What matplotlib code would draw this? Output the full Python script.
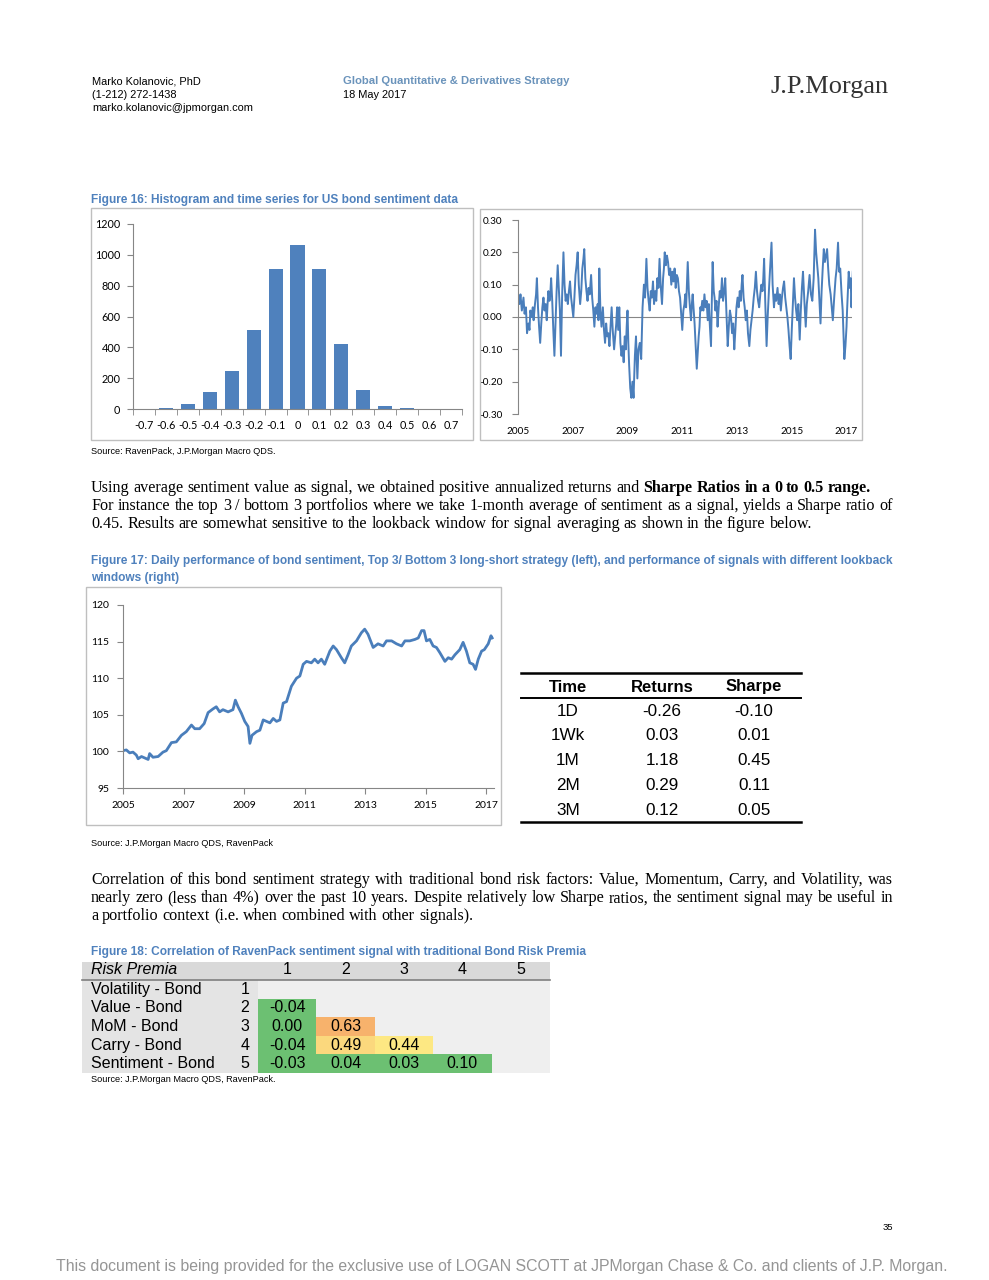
"""
Page 35 of the JPM bond sentiment note, redrawn with matplotlib.
"""

import matplotlib
matplotlib.use('Agg')
import matplotlib.pyplot as plt
from matplotlib import font_manager
from matplotlib.patches import Rectangle
from matplotlib.lines import Line2D

W, H = 989, 1280

# --- Figure 16 (left): histogram of sentiment --------------------------------
hist_bins = ['-0.7', '-0.6', '-0.5', '-0.4', '-0.3', '-0.2', '-0.1', '0',
             '0.1', '0.2', '0.3', '0.4', '0.5', '0.6', '0.7']
hist_counts = [0, 9, 30, 112, 249, 515, 908, 1064, 906, 419, 123, 22, 6, 0, 0]

# --- Figure 16 (right): sentiment time series --------------------------------
sent_years = [
    2005.00, 2005.05, 2005.09, 2005.14, 2005.20, 2005.24, 2005.29, 2005.33,
    2005.38, 2005.42, 2005.45, 2005.50, 2005.54, 2005.57, 2005.62, 2005.66,
    2005.69, 2005.73, 2005.77, 2005.81, 2005.85, 2005.89, 2005.93, 2005.97,
    2006.01, 2006.05, 2006.08, 2006.11, 2006.15, 2006.18, 2006.21, 2006.25,
    2006.29, 2006.33, 2006.37, 2006.41, 2006.45, 2006.49, 2006.53, 2006.57,
    2006.61, 2006.66, 2006.70, 2006.74, 2006.78, 2006.82, 2006.86, 2006.90,
    2006.94, 2006.98, 2007.02, 2007.06, 2007.10, 2007.14, 2007.18, 2007.22,
    2007.27, 2007.31, 2007.35, 2007.39, 2007.42, 2007.46, 2007.50, 2007.54,
    2007.58, 2007.62, 2007.67, 2007.71, 2007.75, 2007.79, 2007.83, 2007.87,
    2007.91, 2007.94, 2007.97, 2008.01, 2008.05, 2008.10, 2008.14, 2008.18,
    2008.22, 2008.26, 2008.30, 2008.34, 2008.38, 2008.42, 2008.46, 2008.51,
    2008.55, 2008.59, 2008.62, 2008.66, 2008.70, 2008.74, 2008.78, 2008.82,
    2008.86, 2008.90, 2008.94, 2008.97, 2009.00, 2009.03, 2009.06, 2009.10,
    2009.14, 2009.18, 2009.22, 2009.27, 2009.31, 2009.36, 2009.40, 2009.45,
    2009.50, 2009.55, 2009.60, 2009.64, 2009.69, 2009.73, 2009.77, 2009.81,
    2009.85, 2009.89, 2009.93, 2009.97, 2010.01, 2010.05, 2010.09, 2010.13,
    2010.17, 2010.21, 2010.26, 2010.30, 2010.33, 2010.36, 2010.40, 2010.44,
    2010.48, 2010.52, 2010.56, 2010.60, 2010.64, 2010.68, 2010.72, 2010.76,
    2010.80, 2010.84, 2010.88, 2010.92, 2010.96, 2011.00, 2011.04, 2011.08,
    2011.11, 2011.14, 2011.17, 2011.20, 2011.24, 2011.28, 2011.32, 2011.35,
    2011.38, 2011.42, 2011.45, 2011.49, 2011.53, 2011.57, 2011.60, 2011.63,
    2011.66, 2011.69, 2011.73, 2011.77, 2011.81, 2011.85, 2011.89, 2011.93,
    2011.97, 2012.01, 2012.05, 2012.08, 2012.11, 2012.15, 2012.18, 2012.21,
    2012.25, 2012.29, 2012.33, 2012.37, 2012.41, 2012.45, 2012.49, 2012.53,
    2012.57, 2012.61, 2012.66, 2012.70, 2012.74, 2012.78, 2012.82, 2012.86,
    2012.90, 2012.94, 2012.98, 2013.02, 2013.06, 2013.10, 2013.14, 2013.17,
    2013.20, 2013.24, 2013.28, 2013.32, 2013.36, 2013.40, 2013.45, 2013.49,
    2013.53, 2013.57, 2013.61, 2013.65, 2013.69, 2013.73, 2013.77, 2013.81,
    2013.85, 2013.89, 2013.93, 2013.96, 2013.99, 2014.03, 2014.08, 2014.12,
    2014.17, 2014.21, 2014.26, 2014.30, 2014.35, 2014.39, 2014.43, 2014.48,
    2014.52, 2014.56, 2014.60, 2014.64, 2014.68, 2014.72, 2014.76, 2014.80,
    2014.84, 2014.88, 2014.92, 2014.96, 2015.00, 2015.04, 2015.08, 2015.12,
    2015.16, 2015.20, 2015.24, 2015.29, 2015.33, 2015.37, 2015.41, 2015.46,
    2015.51, 2015.55, 2015.60, 2015.65, 2015.70, 2015.75, 2015.80, 2015.85,
    2015.89, 2015.93, 2015.97, 2016.01, 2016.05, 2016.09, 2016.13, 2016.17,
    2016.21, 2016.25, 2016.29, 2016.33, 2016.37, 2016.42, 2016.46, 2016.50,
    2016.55, 2016.60, 2016.64, 2016.69, 2016.73, 2016.77, 2016.82, 2016.86,
    2016.89, 2016.92, 2016.96, 2017.00, 2017.02, 2017.05, 2017.08, 2017.12,
    2017.15, 2017.18, 2017.21, 2017.23]
sent_values = [
    0.07, 0.04, 0.07, 0.02, 0.06, 0.01, 0.03, -0.05,
    -0.02, -0.04, 0.02, 0.00, 0.03, -0.01, 0.04, 0.07,
    0.12, 0.03, -0.03, -0.08, -0.02, 0.03, 0.06, 0.02,
    0.04, -0.01, 0.04, 0.08, 0.05, 0.07, 0.12, 0.05,
    -0.04, -0.12, -0.02, 0.08, 0.16, 0.09, 0.02, -0.12,
    0.06, 0.20, 0.10, 0.05, 0.07, 0.04, 0.08, 0.11,
    0.06, 0.03, 0.00, 0.06, 0.13, 0.16, 0.20, 0.10,
    0.04, 0.08, 0.15, 0.18, 0.21, 0.12, 0.08, 0.05,
    0.09, 0.07, 0.13, 0.06, 0.02, -0.03, 0.03, 0.01,
    0.04, -0.01, 0.15, 0.02, -0.03, 0.03, -0.04, -0.08,
    -0.02, -0.06, -0.05, -0.09, -0.03, 0.03, -0.04, -0.10,
    -0.06, -0.02, 0.03, -0.04, 0.03, -0.08, -0.12, -0.09,
    -0.14, -0.06, -0.10, -0.03, 0.02, -0.08, -0.15, -0.22,
    -0.25, -0.20, -0.25, -0.12, -0.06, -0.19, -0.10, -0.08,
    -0.13, 0.03, 0.10, 0.06, 0.18, 0.09, 0.05, 0.02,
    0.08, 0.06, 0.11, 0.04, 0.08, 0.05, 0.12, 0.09,
    0.18, 0.10, 0.04, 0.12, 0.15, 0.20, 0.16, 0.19,
    0.17, 0.13, 0.15, 0.10, 0.14, 0.11, 0.15, 0.09,
    0.13, 0.12, 0.08, 0.06, 0.01, -0.04, 0.02, 0.04,
    0.07, 0.03, 0.10, 0.17, 0.08, 0.03, -0.01, 0.04,
    0.07, 0.02, -0.02, -0.09, -0.16, -0.10, -0.06, -0.03,
    0.03, 0.02, 0.05, 0.02, 0.07, 0.03, 0.05, -0.01,
    0.04, -0.03, -0.09, 0.05, 0.17, 0.08, 0.06, 0.02,
    0.05, -0.03, 0.03, 0.08, 0.06, 0.12, 0.05, 0.08,
    0.12, 0.02, -0.09, -0.03, 0.02, 0.00, -0.05, -0.02,
    -0.10, -0.04, 0.03, 0.06, 0.03, 0.08, 0.05, 0.10,
    0.13, 0.06, 0.03, -0.01, 0.02, -0.05, -0.09, -0.04,
    -0.01, 0.02, 0.06, 0.09, 0.14, 0.08, 0.05, 0.03,
    0.07, 0.10, 0.08, 0.12, 0.18, 0.05, -0.09, 0.00,
    0.09, 0.15, 0.23, 0.10, 0.03, 0.07, 0.05, 0.09,
    0.04, 0.07, 0.02, 0.06, 0.09, 0.11, 0.06, 0.03,
    0.00, -0.04, -0.09, -0.13, -0.04, 0.04, 0.12, 0.06,
    0.02, -0.01, 0.04, -0.07, 0.02, 0.09, 0.14, 0.05,
    -0.03, 0.04, 0.08, 0.13, 0.07, 0.05, 0.12, 0.27,
    0.20, 0.16, 0.12, 0.05, -0.02, 0.08, 0.15, 0.21,
    0.17, 0.19, 0.21, 0.15, 0.10, 0.07, 0.03, -0.01,
    0.06, 0.12, 0.15, 0.23, 0.14, 0.15, 0.07, 0.02,
    -0.06, -0.13, -0.09, -0.03, 0.02, 0.08, 0.14, 0.09,
    0.12, 0.03, 0.10, 0.14]

# --- Figure 17 (left): cumulative performance ---------------------------------
perf_years = [2005.00, 2005.11, 2005.22, 2005.33, 2005.44, 2005.50, 2005.61,
              2005.72, 2005.83, 2005.88, 2005.99, 2006.16, 2006.32, 2006.43,
              2006.60, 2006.76, 2006.93, 2007.09, 2007.26, 2007.37, 2007.53,
              2007.68, 2007.81, 2007.97, 2008.08, 2008.19, 2008.30, 2008.47,
              2008.63, 2008.71, 2008.80, 2008.91, 2009.02, 2009.13, 2009.19,
              2009.26, 2009.41, 2009.52, 2009.63, 2009.74, 2009.85, 2009.96,
              2010.07, 2010.18, 2010.29, 2010.40, 2010.56, 2010.73, 2010.84,
              2010.95, 2011.06, 2011.22, 2011.33, 2011.44, 2011.55, 2011.66,
              2011.83, 2011.94, 2012.05, 2012.21, 2012.32, 2012.43, 2012.54,
              2012.71, 2012.87, 2012.98, 2013.09, 2013.26, 2013.42, 2013.59,
              2013.70, 2013.87, 2014.03, 2014.20, 2014.31, 2014.47, 2014.64,
              2014.75, 2014.86, 2014.94, 2015.02, 2015.13, 2015.24, 2015.35,
              2015.46, 2015.63, 2015.74, 2015.85, 2015.96, 2016.12, 2016.23,
              2016.34, 2016.45, 2016.56, 2016.64, 2016.73, 2016.84, 2016.93,
              2017.06, 2017.15, 2017.19]
perf_values = [100.1, 100.2, 99.8, 99.9, 99.5, 99.0, 99.3,
               99.1, 98.9, 99.7, 99.2, 99.3, 99.9, 100.1,
               101.2, 101.3, 102.2, 102.7, 103.6, 103.1, 103.1,
               103.8, 105.3, 105.8, 106.1, 105.4, 105.7, 105.4,
               105.7, 107.0, 106.1, 105.2, 104.1, 103.4, 101.1,
               102.2, 102.7, 102.9, 104.3, 104.1, 103.9, 104.5,
               104.1, 104.3, 106.6, 106.8, 108.9, 110.0, 110.3,
               111.9, 112.3, 112.1, 112.6, 112.1, 112.6, 111.9,
               113.7, 114.4, 113.9, 112.8, 112.1, 113.2, 114.4,
               115.1, 116.2, 116.7, 116.0, 114.2, 114.7, 114.4,
               115.1, 115.1, 114.7, 114.4, 115.1, 115.1, 115.3,
               115.5, 116.5, 116.5, 115.1, 115.3, 114.4, 114.2,
               113.5, 112.3, 112.8, 112.6, 113.2, 113.9, 114.9,
               113.7, 112.1, 111.9, 111.2, 112.6, 113.7, 113.9,
               114.7, 115.8, 115.5]

# --- Figure 17 (right): lookback table ---------------------------------------
look_headers = ['Time', 'Returns', 'Sharpe']
look_time = ['1D', '1Wk', '1M', '2M', '3M']
look_returns = ['-0.26', '0.03', '1.18', '0.29', '0.12']
look_sharpe = ['-0.10', '0.01', '0.45', '0.11', '0.05']

# --- Figure 18: correlation matrix -------------------------------------------
corr_names = ['Volatility - Bond', 'Value - Bond', 'MoM - Bond',
              'Carry - Bond', 'Sentiment - Bond']
corr_matrix = [[None, None, None, None, None],
               [-0.04, None, None, None, None],
               [0.00, 0.63, None, None, None],
               [-0.04, 0.49, 0.44, None, None],
               [-0.03, 0.04, 0.03, 0.10, None]]

# body paragraphs, line by line as on the page (text, weight)
para1 = [[("Using average sentiment value as signal, we obtained positive "
           "annualized returns and", 'normal'),
          ("Sharpe Ratios in a 0 to 0.5 range.", 'bold')],
         [("For instance the top 3 / bottom 3 portfolios where we take 1-month "
           "average of sentiment as a signal, yields a Sharpe ratio of",
           'normal')],
         [("0.45. Results are somewhat sensitive to the lookback window for "
           "signal averaging as shown in the figure below.", 'normal')]]
para1_justify = [False, True, False]
para2 = [[("Correlation of this bond sentiment strategy with traditional bond "
           "risk factors: Value, Momentum, Carry, and Volatility, was",
           'normal')],
         [("nearly zero (less than 4%) over the past 10 years. Despite "
           "relatively low Sharpe ratios, the sentiment signal may be useful in",
           'normal')],
         [("a portfolio context (i.e. when combined with other signals).",
           'normal')]]
para2_justify = [True, True, False]

names = {f.name for f in font_manager.fontManager.ttflist}
SANS = 'Liberation Sans'
NARROW = 'Liberation Sans Narrow' if 'Liberation Sans Narrow' in names else SANS
SERIF = 'Liberation Serif'
CHART = 'Lato' if 'Lato' in names else 'DejaVu Sans'
TITLE_BLUE = '#4f81bd'
LINE_BLUE = '#4a7ebb'
AXIS_GREY = '#868686'

fig = plt.figure(figsize=(W / 100, H / 100), dpi=100)
fig.patch.set_facecolor('white')
renderer = fig.canvas.get_renderer()


def fx(x):
    return x / W


def fy(y):
    return 1 - y / H


def put(x, y, s, **kw):
    kw.setdefault('va', 'center')
    kw.setdefault('family', SANS)
    return fig.text(fx(x), fy(y), s, **kw)


def add_ax(left, top, right, bottom):
    return fig.add_axes([fx(left), fy(bottom), (right - left) / W,
                         (bottom - top) / H])


def frame(left, top, right, bottom, color='#bfbfbf', lw=1.0, fill='none'):
    fig.patches.append(Rectangle((fx(left), fy(bottom)), (right - left) / W,
                                 (bottom - top) / H, transform=fig.transFigure,
                                 facecolor=fill, edgecolor=color, linewidth=lw))


def hline(x0, x1, y, color='black', lw=1.0):
    fig.lines.append(Line2D([fx(x0), fx(x1)], [fy(y), fy(y)],
                            transform=fig.transFigure, color=color,
                            linewidth=lw))


def text_width(s, **kw):
    t = fig.text(0, 0, s, **kw)
    w = t.get_window_extent(renderer).width
    t.remove()
    return w


def draw_line(segments, x0, x1, y, size, justify):
    """Draws one line of body text, word by word, justified if asked."""
    words = []
    for seg, weight in segments:
        for w in seg.split():
            words.append((w, weight))
    texts = [fig.text(0, 0, w, fontsize=size, family=SERIF, weight=wt,
                      va='baseline') for w, wt in words]
    widths = [t.get_window_extent(renderer).width for t in texts]
    space = (text_width('a a', fontsize=size, family=SERIF) -
             text_width('aa', fontsize=size, family=SERIF))
    if justify and len(words) > 1:
        gap = (x1 - x0 - sum(widths)) / (len(words) - 1)
    else:
        gap = space
    x = x0
    for t, w in zip(texts, widths):
        t.set_position((fx(x), fy(y)))
        x += w + gap


def style_ticks(ax):
    for lab in ax.get_xticklabels() + ax.get_yticklabels():
        lab.set_family(CHART)
    ax.set_facecolor('none')


# header
put(92, 81, "Marko Kolanovic, PhD", fontsize=7.9)
put(92, 95, "(1-212) 272-1438", fontsize=7.9)
put(92, 108, "marko.kolanovic@jpmorgan.com", fontsize=7.9)
put(343, 81, "Global Quantitative & Derivatives Strategy", fontsize=8.1,
    weight='bold', color='#6a93bb')
put(343, 95, "18 May 2017", fontsize=7.9)
put(889, 87, "J.P.Morgan", fontsize=19, family=SERIF, ha='right',
    color='#333333')

# figure 16 title
put(91, 200, "Figure 16: Histogram and time series for US bond sentiment data",
    fontsize=8.6, weight='bold', color=TITLE_BLUE, family=NARROW)

# histogram
frame(91, 208, 473, 440)
ax = add_ax(133, 224, 462, 409)
pos = list(range(len(hist_bins)))
ax.bar(pos, hist_counts, width=0.64, color='#4f81bd')
ax.set_xlim(-0.5, len(hist_bins) - 0.5)
ax.set_ylim(0, 1200)
ax.set_yticks(range(0, 1201, 200))
ax.set_xticks(pos)
ax.set_xticklabels(hist_bins)
ax.set_xticks([p - 0.5 for p in pos] + [len(pos) - 0.5], minor=True)
ax.tick_params(axis='x', which='major', length=0, pad=8, labelsize=7.8)
ax.tick_params(axis='x', which='minor', length=4, color=AXIS_GREY,
               direction='out')
ax.tick_params(axis='y', length=4, color=AXIS_GREY, pad=5, labelsize=7.8)
style_ticks(ax)
for side in ['top', 'right']:
    ax.spines[side].set_visible(False)
ax.spines['left'].set_color(AXIS_GREY)
ax.spines['bottom'].set_color(AXIS_GREY)

# sentiment time series
frame(480, 209, 862, 440)
ax = add_ax(518, 220, 852, 414)
ax.plot(sent_years, sent_values, color=LINE_BLUE, linewidth=1.4)
ax.axhline(0, color=AXIS_GREY, linewidth=0.8, zorder=0)
ax.set_xlim(2005, 2017.2)
ax.set_ylim(-0.30, 0.30)
yt = [-0.3, -0.2, -0.1, 0.0, 0.1, 0.2, 0.3]
ax.set_yticks(yt)
ax.set_yticklabels(['%.2f' % v for v in yt])
ax.set_xticks(range(2005, 2018, 2))
ax.tick_params(axis='x', length=0, pad=9, labelsize=7.2)
ax.tick_params(axis='y', length=4, color=AXIS_GREY, pad=7, labelsize=7.2)
style_ticks(ax)
for side in ['top', 'right', 'bottom']:
    ax.spines[side].set_visible(False)
ax.spines['left'].set_color(AXIS_GREY)

put(91, 451, "Source: RavenPack, J.P.Morgan Macro QDS.", fontsize=6.6)

# paragraph 1
size = 11.65
for i, (segs, just) in enumerate(zip(para1, para1_justify)):
    draw_line(segs, 91, 893, 492 + 18.2 * i, size, just)

# figure 17 title
put(91, 561, "Figure 17: Daily performance of bond sentiment, Top 3/ Bottom 3 "
    "long-short strategy (left), and performance of signals with different "
    "lookback", fontsize=8.6, weight='bold', color=TITLE_BLUE, family=NARROW)
put(91, 578, "windows (right)", fontsize=8.6, weight='bold', color=TITLE_BLUE,
    family=NARROW)

# performance line
frame(86, 587, 501, 825)
ax = add_ax(123, 605, 494, 788)
ax.plot(perf_years, perf_values, color=LINE_BLUE, linewidth=2.0)
ax.set_xlim(2005, 2017.25)
ax.set_ylim(95, 120)
ax.set_yticks(range(95, 121, 5))
ax.set_xticks(range(2005, 2018, 2))
ax.tick_params(axis='both', length=4, color=AXIS_GREY, labelsize=7.5)
ax.tick_params(axis='x', pad=5)
ax.tick_params(axis='y', pad=6)
style_ticks(ax)
for side in ['top', 'right']:
    ax.spines[side].set_visible(False)
ax.spines['left'].set_color(AXIS_GREY)
ax.spines['bottom'].set_color(AXIS_GREY)

put(91, 843, "Source: J.P.Morgan Macro QDS, RavenPack", fontsize=6.6)

# lookback table
col_x = [568, 662, 754]
hline(521, 801, 673, lw=1.8)
hline(521, 801, 698, lw=1.4)
hline(521, 801, 822, lw=1.8)
for x, h in zip(col_x, look_headers):
    put(x, 687, h, fontsize=12, weight='bold', ha='center')
for i in range(len(look_time)):
    y = 711 + 24.8 * i
    for x, v in zip(col_x, [look_time[i], look_returns[i], look_sharpe[i]]):
        put(x, y, v, fontsize=12.3, ha='center')

# paragraph 2
for i, (segs, just) in enumerate(zip(para2, para2_justify)):
    draw_line(segs, 91, 893, 884 + 18.2 * i, size, just)

# figure 18 title
put(91, 952, "Figure 18: Correlation of RavenPack sentiment signal with "
    "traditional Bond Risk Premia", fontsize=8.6, weight='bold',
    color=TITLE_BLUE, family=NARROW)


def corr_colour(v):
    if v >= 0.55:
        return '#f7b26c'
    if v >= 0.47:
        return '#fbd87d'
    if v >= 0.4:
        return '#fde883'
    return '#6cc072'


# correlation table
left, lab_right, right = 82, 258, 550
top, head_bot = 962, 980
row_h = 18.6
col_w = (right - lab_right) / 5
frame(left, top, right, head_bot, color='none', fill='#d9d9d9')
frame(left, head_bot, lab_right, head_bot + 5 * row_h, color='none',
      fill='#e4e4e4')
frame(lab_right, head_bot, right, head_bot + 5 * row_h, color='none',
      fill='#efefef')
hline(left, right, head_bot, color='#7f7f7f', lw=1.2)
put(91, 970, "Risk Premia", fontsize=11.5, style='italic')
for j in range(5):
    put(lab_right + col_w * (j + 0.5), 970, str(j + 1), fontsize=11.5,
        ha='center')
for i, name in enumerate(corr_names):
    yc = head_bot + row_h * (i + 0.5)
    put(91, yc, name, fontsize=11.5)
    put(245, yc, str(i + 1), fontsize=11.5, ha='center')
    for j, v in enumerate(corr_matrix[i]):
        if v is None:
            continue
        x0 = lab_right + col_w * j
        frame(x0, head_bot + row_h * i, x0 + col_w, head_bot + row_h * (i + 1),
              color='none', fill=corr_colour(v))
        put(x0 + col_w / 2, yc, '%.2f' % v, fontsize=11.5, ha='center')

put(91, 1080, "Source: J.P.Morgan Macro QDS, RavenPack.", fontsize=6.6)

# footer
put(893, 1228, "35", fontsize=6.8, ha='right')
put(948, 1266, "This document is being provided for the exclusive use of "
    "LOGAN SCOTT at JPMorgan Chase & Co. and clients of J.P. Morgan.",
    fontsize=11.4, ha='right', color='#959595')

fig.savefig('out.png', dpi=100)
